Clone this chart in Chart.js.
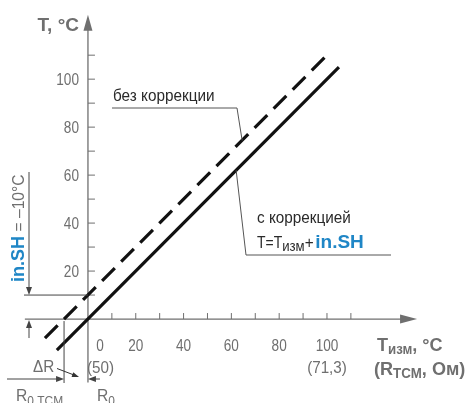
<!DOCTYPE html>
<html><head><meta charset="utf-8">
<script src="https://cdn.jsdelivr.net/npm/chart.js@4/dist/chart.umd.min.js"></script>
<style>html,body{margin:0;padding:0;background:#fff}#wrap{width:468px;height:403px;position:relative}</style>
</head><body><div id="wrap"><canvas id="c"></canvas></div>
<script>
// ---- data ----
const xMinorTicks = [10,20,30,40,50,60,70,80,90,100,110];
const xTickLabels = [0,20,40,60,80,100];
const yMinorTicks = [10,20,30,40,50,60,70,80,90,100,110];
const yTickLabels = [20,40,60,80,100];
const resistanceAt = [0,100];
const resistanceText = ['(50)','(71,3)'];
const uncorrectedX = [-18,100];
const uncorrectedY = [-8,110];
const correctedX = [-13,105];
const correctedY = [-13,105];
const shiftValue = -10;

const FONT = '"Liberation Sans","Arial","DejaVu Sans",sans-serif';
const GRAY = '#6f6f6f';
const DARK = '#2a2a2a';
const BLUE = '#1f86c6';

function f(size, bold) { return (bold ? 'bold ' : '') + size + 'px ' + FONT; }

// draw runs of text, each part horizontally scaled by its own sx
function runs(ctx, x, y, parts, align, sx) {
  sx = sx || 0.9;
  let w = 0;
  for (const p of parts) { ctx.font = p.font; w += ctx.measureText(p.t).width * (p.sx || sx); }
  let cx = align === 'right' ? x - w : align === 'center' ? x - w / 2 : x;
  ctx.save();
  ctx.textAlign = 'left'; ctx.textBaseline = 'alphabetic';
  for (const p of parts) {
    const s = p.sx || sx;
    ctx.font = p.font; ctx.fillStyle = p.color;
    ctx.save();
    ctx.translate(cx, y + (p.dy || 0)); ctx.scale(s, 1);
    ctx.fillText(p.t, 0, 0);
    ctx.restore();
    cx += ctx.measureText(p.t).width * s;
  }
  ctx.restore();
}
function txt(ctx, s, x, y, font, color, align, sx) {
  runs(ctx, x, y, [{t:s, font, color}], align, sx);
}
function arrow(ctx, tx, ty, ang, len, hw, color) {
  ctx.save();
  ctx.translate(tx, ty); ctx.rotate(ang);
  ctx.beginPath(); ctx.moveTo(0,0); ctx.lineTo(-len,-hw); ctx.lineTo(-len,hw); ctx.closePath();
  ctx.fillStyle = color; ctx.fill();
  ctx.restore();
}
function line(ctx, x1, y1, x2, y2, color, w) {
  ctx.beginPath(); ctx.moveTo(x1,y1); ctx.lineTo(x2,y2);
  ctx.strokeStyle = color; ctx.lineWidth = w || 1; ctx.setLineDash([]); ctx.stroke();
}

const diagram = {
  id: 'diagram',
  beforeDatasetsDraw(chart) {
    const ctx = chart.ctx, xs = chart.scales.x, ys = chart.scales.y;
    const X = v => xs.getPixelForValue(v), Y = v => ys.getPixelForValue(v);
    const x0 = X(0), y0 = Y(0);
    ctx.save();
    // y axis
    line(ctx, x0, Y(-26.5), x0, Y(120.5), GRAY, 1.3);
    arrow(ctx, x0, Y(126.8), -Math.PI/2, 16, 4.5, GRAY);
    // x axis
    line(ctx, X(-26.4), y0, X(131), y0, GRAY, 1.3);
    arrow(ctx, X(137.7), y0, 0, 17, 4.5, GRAY);
    // ticks
    for (const v of yMinorTicks) line(ctx, x0, Y(v), x0 + 7, Y(v), GRAY, 1);
    for (const v of xMinorTicks) line(ctx, X(v), y0, X(v), y0 - 6, GRAY, 1);
    // tick labels
    for (const v of yTickLabels) txt(ctx, String(v), x0 - 9, Y(v) + 6, f(17), GRAY, 'right', 0.8);
    for (const v of xTickLabels) txt(ctx, String(v), v === 0 ? x0 + 12 : X(v), y0 + 32, f(17), GRAY, 'center', 0.8);
    resistanceAt.forEach((v, i) => txt(ctx, resistanceText[i], v === 0 ? x0 + 12.5 : X(v), y0 + 54, f(16), GRAY, 'center', 0.95));
    // axis titles
    txt(ctx, 'T, °C', x0 - 9, 31, f(19, true), GRAY, 'right', 1.0);
    runs(ctx, 377, y0 + 32, [
      {t:'T', font:f(19, true), color:GRAY}, {t:'изм', font:f(14, true), color:GRAY, dy:3},
      {t:', °C', font:f(19, true), color:GRAY}], 'left', 0.95);
    runs(ctx, 374, y0 + 56, [
      {t:'(R', font:f(19, true), color:GRAY}, {t:'TCM', font:f(14, true), color:GRAY, dy:3},
      {t:', Ом)', font:f(19, true), color:GRAY}], 'left', 0.95);
    ctx.restore();
  },
  afterDatasetsDraw(chart) {
    const ctx = chart.ctx, xs = chart.scales.x, ys = chart.scales.y;
    const X = v => xs.getPixelForValue(v), Y = v => ys.getPixelForValue(v);
    const x0 = X(0), y0 = Y(0);
    const off = -shiftValue;
    ctx.save();
    // "без коррекции"
    txt(ctx, 'без коррекции', 113, 101, f(17), DARK, 'left', 0.9);
    line(ctx, 112, 108, 237, 108, '#555', 1);
    line(ctx, 237, 108, X(64.5), Y(64.5 + off), '#555', 1);
    // "с коррекцией"
    txt(ctx, 'с коррекцией', 257, 223, f(17), DARK, 'left', 0.9);
    runs(ctx, 257, 248, [
      {t:'T=T', font:f(17), color:DARK, sx:0.82},
      {t:'изм', font:f(15), color:DARK, dy:3, sx:0.88},
      {t:'+', font:f(17), color:DARK, sx:0.9},
      {t:' ', font:f(6), color:DARK, sx:1},
      {t:'in.SH', font:f(19, true), color:BLUE, sx:1.0}], 'left');
    line(ctx, X(62), Y(62), 246, 255, '#555', 1);
    line(ctx, 246, 255, 391, 255, '#555', 1);
    // in.SH dimension (left)
    ctx.save();
    ctx.translate(24, 282); ctx.rotate(-Math.PI/2);
    runs(ctx, 0, 0, [
      {t:'in.SH', font:f(19, true), color:BLUE, sx:0.95},
      {t:' = –' + Math.abs(shiftValue) + '°C', font:f(17), color:GRAY, sx:0.92}], 'left');
    ctx.restore();
    line(ctx, 29, 172, 29, Y(off) - 6, '#444', 1);
    arrow(ctx, 29, Y(off), Math.PI/2, 8, 3, '#444');
    line(ctx, 24, Y(off), x0, Y(off), '#444', 1);
    line(ctx, 29, y0 + 6, 29, y0 + 19, '#444', 1);
    arrow(ctx, 29, y0 + 1, -Math.PI/2, 8, 3, '#444');
    // R0 dimension (bottom)
    const xr = X(-off);
    line(ctx, xr, y0 + 2, xr, 383, '#444', 1);
    line(ctx, 7, 379, xr - 6, 379, '#444', 1);
    arrow(ctx, xr, 379, 0, 8, 3, '#444');
    line(ctx, x0 + 6, 379, x0 + 12, 379, '#444', 1);
    arrow(ctx, x0, 379, Math.PI, 8, 3, '#444');
    // ΔR
    txt(ctx, 'ΔR', 33, 372, f(17), GRAY, 'left', 0.9);
    line(ctx, 57, 368.5, 74, 375, '#333', 1);
    arrow(ctx, 79, 377, Math.atan2(8, 22), 7, 2.5, '#333');
    runs(ctx, 16, 401, [
      {t:'R', font:f(17), color:GRAY},
      {t:'0,TCM', font:f(13), color:GRAY, dy:4}], 'left', 0.92);
    runs(ctx, 97, 401, [
      {t:'R', font:f(17), color:GRAY},
      {t:'0', font:f(13), color:GRAY, dy:4}], 'left', 0.92);
    ctx.restore();
  }
};

const toPts = (xa, ya) => xa.map((x, i) => ({x, y: ya[i]}));

new Chart(document.getElementById('c'), {
  type: 'line',
  data: {
    datasets: [
      {label:'без коррекции', data: toPts(uncorrectedX, uncorrectedY), borderColor:'#111', borderWidth:3.2,
       borderDash:[18,9], pointRadius:0, fill:false},
      {label:'с коррекцией', data: toPts(correctedX, correctedY), borderColor:'#111', borderWidth:3.2,
       pointRadius:0, fill:false}
    ]
  },
  options: {
    responsive: true, maintainAspectRatio: false, animation: false,
    layout: {padding: 0},
    plugins: {legend:{display:false}, tooltip:{enabled:false}},
    scales: {
      x: {type:'linear', min:-36.8, max:159, display:false},
      y: {type:'linear', min:-35, max:133, display:false}
    }
  },
  plugins: [diagram]
});
</script></body></html>
